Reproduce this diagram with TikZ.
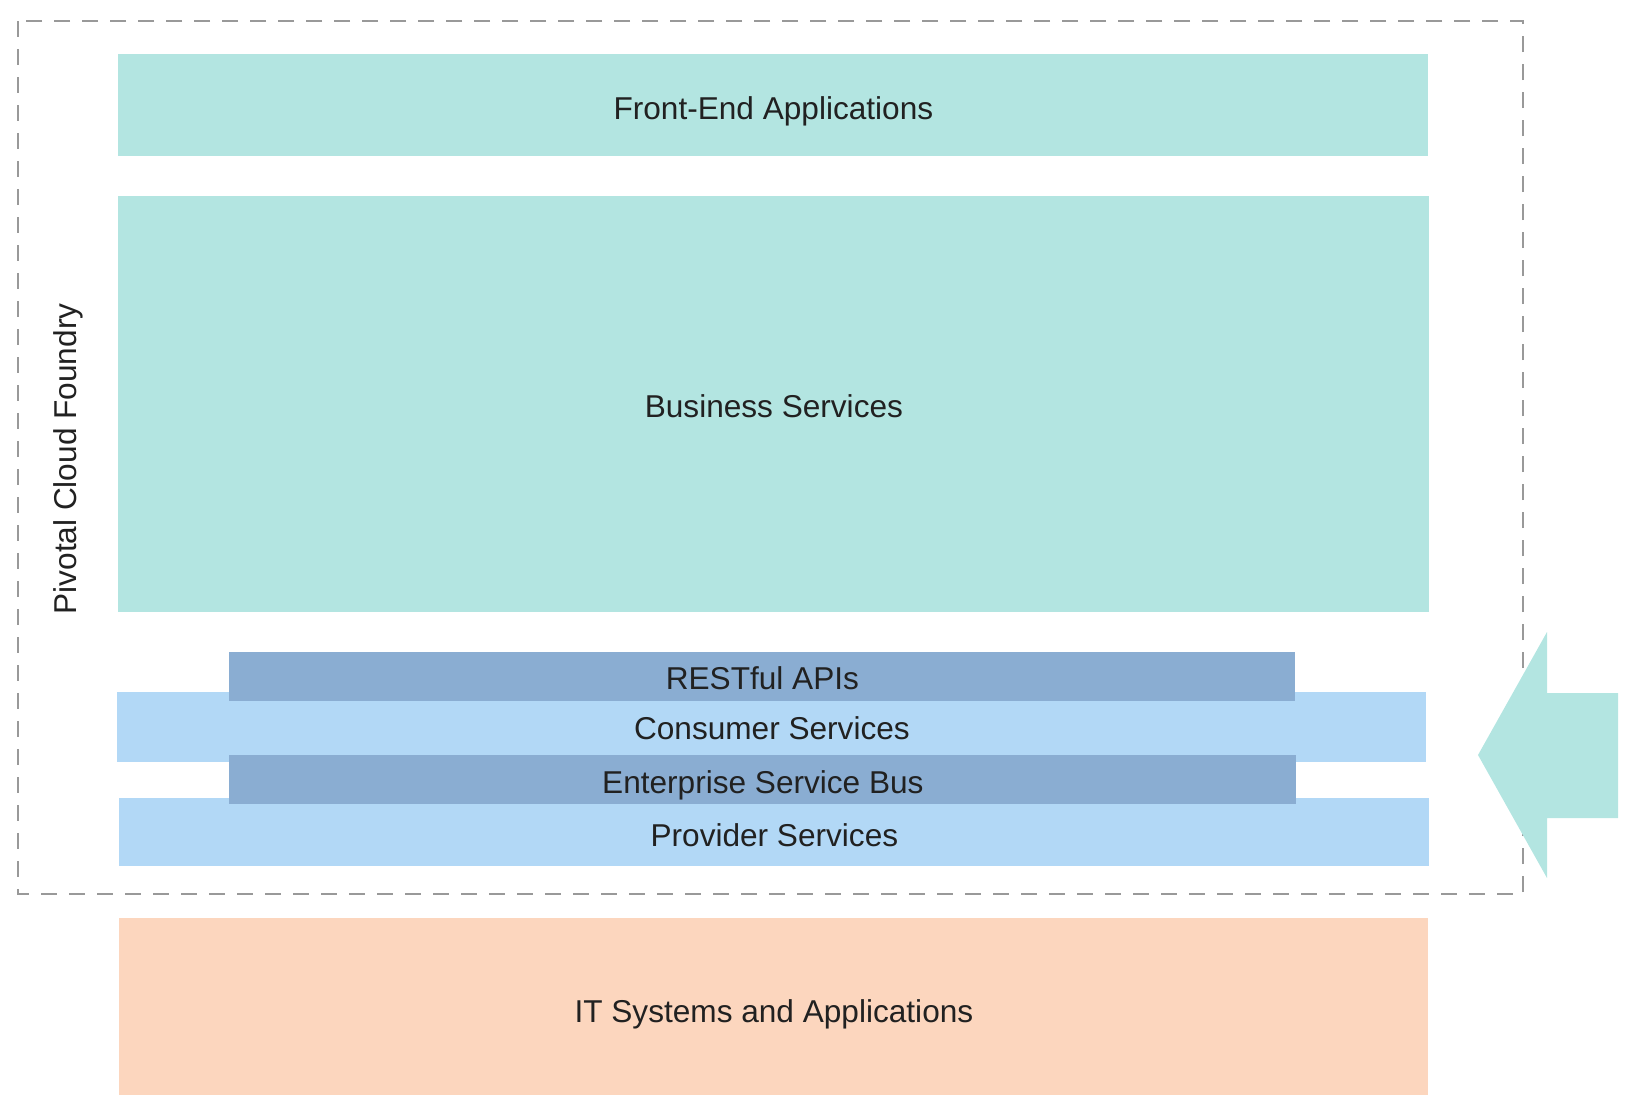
\documentclass[tikz,border=0pt]{standalone}
\usepackage{fontspec}
\setmainfont{Liberation Sans}
\usetikzlibrary{positioning}
\definecolor{tealbox}{HTML}{B3E5E1}
\definecolor{lightblue}{HTML}{B2D8F6}
\definecolor{darkblue}{HTML}{8AADD2}
\definecolor{peach}{HTML}{FCD6BE}
\definecolor{dashgray}{HTML}{999999}
\definecolor{textgray}{HTML}{212121}
\tikzset{
  layer/.style={anchor=north west,inner sep=0pt,text=textgray,
    text depth=3.5pt,text height=#1,
    font=\fontsize{15.8}{19}\selectfont},
  layer/.default=11.5pt,
  bus/.style={layer=#1,fill=darkblue},
  bus/.default=11.5pt
}
\begin{document}
\begin{tikzpicture}[x=0.5pt,y=-0.5pt]
      \useasboundingbox (0,0) rectangle (1634,1114);
      % cloud boundary
      \draw [dashgray,line width=1.2pt,dash pattern=on 8pt off 6pt]
      (18,21) rectangle (1523,894);
      \node [layer,rotate=90,anchor=center] (pcf) at (68,459)
      {Pivotal Cloud Foundry};
      \node [layer=17.5pt,fill=tealbox,minimum width=655pt,minimum height=51pt]
      (front) at (118,54) {Front-End Applications};
      \node [layer=16.5pt,fill=tealbox,minimum width=655.5pt,minimum height=208pt]
      (business) at (118,196) {Business Services};
      \node [layer=15.5pt,fill=lightblue,minimum width=654.5pt,minimum height=35pt]
      (consumer) at (117,692) {Consumer Services};
      \node [layer=17.5pt,fill=lightblue,minimum width=655pt,minimum height=34pt]
      (provider) at (119,798) {Provider Services};
      \node [bus=16.5pt,minimum width=533pt,minimum height=24.5pt]
      (rest) at (229,652) {RESTful APIs};
      \node [bus=17.5pt,minimum width=533.5pt,minimum height=24.5pt]
      (esb) at (229,755) {Enterprise Service Bus};
      \node [layer=19.5pt,fill=peach,minimum width=654.5pt,minimum height=88.5pt]
      (itsys) at (119,918) {IT Systems and Applications};
      % incoming arrow
      \fill [tealbox] (1478,755) -- (1547,632) -- (1547,693) -- (1618,693)
      -- (1618,818) -- (1547,818) -- (1547,878) -- cycle;
\end{tikzpicture}
\end{document}
